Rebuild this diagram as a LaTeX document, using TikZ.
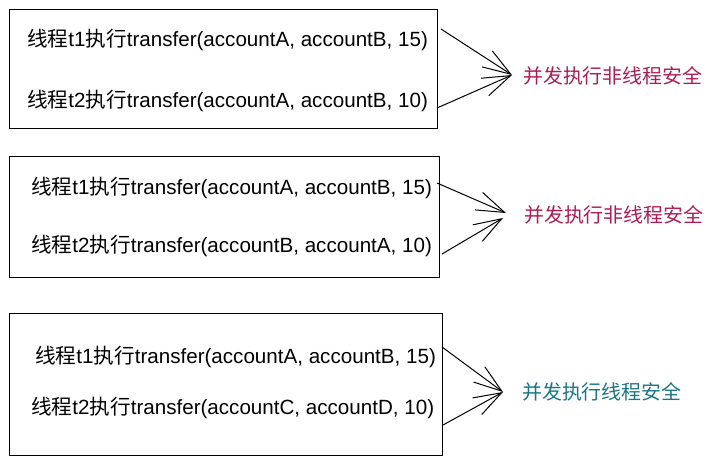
\documentclass[tikz,border=0pt]{standalone}
\usepackage{fontspec}
\setmainfont{Liberation Sans}
\newfontfamily\cjk{Noto Sans CJK SC}
\usetikzlibrary{arrows.meta}
\newcommand{\zh}[1]{{\cjk #1}}
\definecolor{unsafe}{HTML}{AE1C55}
\definecolor{safe}{HTML}{1A7686}
\begin{document}
\begin{tikzpicture}[x=1pt,y=-1pt,
  box/.style={draw=black, line width=1.2pt, rectangle, anchor=north west, inner sep=0pt},
  txt/.style={anchor=west, inner sep=0pt, font=\fontsize{20.6}{24}\selectfont},
  lab/.style={anchor=west, inner sep=0pt, font=\fontsize{19.9}{23}\selectfont\cjk},
  arr/.style={draw=black, line width=1pt, -{Straight Barb[length=28pt,width=19pt,line width=1pt]}}]
\useasboundingbox (0,0) rectangle (714,466);
\fill[white] (0,0) rectangle (714,466);
% box 1
\node[box, minimum width=428pt, minimum height=119pt] (b1) at (9,9) {};
\node[txt] (b1t1) at (27,40) {\zh{线程}t1\zh{执行}transfer(accountA, accountB, 15)};
\node[txt] (b1t2) at (27,101) {\zh{线程}t2\zh{执行}transfer(accountA, accountB, 10)};
\node[lab, text=unsafe] (l1) at (523,76) {并发执行非线程安全};
\coordinate (a1s) at (441,29);
\coordinate (a1e) at (437,108);
\coordinate (p1) at (512,75);
\draw[arr] (a1s) -- (p1);
\draw[arr] (a1e) -- (p1);
% box 2
\node[box, minimum width=430pt, minimum height=121pt] (b2) at (9,156) {};
\node[txt] (b2t1) at (31,188) {\zh{线程}t1\zh{执行}transfer(accountA, accountB, 15)};
\node[txt] (b2t2) at (31,246) {\zh{线程}t2\zh{执行}transfer(accountB, accountA, 10)};
\node[lab, text=unsafe] (l2) at (524,215) {并发执行非线程安全};
\coordinate (a2s) at (437,183);
\coordinate (a2e) at (442,254);
\coordinate (p2a) at (506,213);
\coordinate (p2b) at (503,218);
\draw[arr] (a2s) -- (p2a);
\draw[arr] (a2e) -- (p2b);
% box 3
\node[box, minimum width=433pt, minimum height=142pt] (b3) at (9,313) {};
\node[txt] (b3t1) at (35,357) {\zh{线程}t1\zh{执行}transfer(accountA, accountB, 15)};
\node[txt] (b3t2) at (31,408) {\zh{线程}t2\zh{执行}transfer(accountC, accountD, 10)};
\node[lab, text=safe] (l3) at (522,392) {并发执行线程安全};
\coordinate (a3s) at (442,347);
\coordinate (a3e) at (443,425);
\coordinate (p3) at (503,392);
\draw[arr] (a3s) -- (p3);
\draw[arr] (a3e) -- (p3);
\end{tikzpicture}
\end{document}
